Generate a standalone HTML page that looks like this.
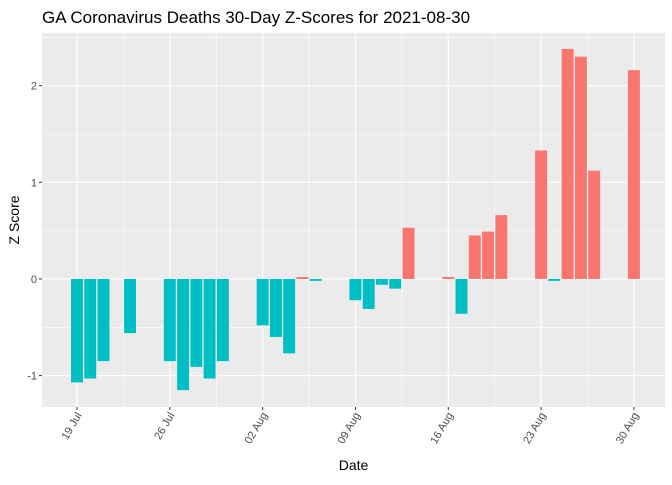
<!DOCTYPE html>
<html><head><meta charset="utf-8"><style>
body{margin:0;background:#fff;font-family:"Liberation Sans",Arial,sans-serif}
</style></head><body>
<svg id="chart" width="672" height="480" xmlns="http://www.w3.org/2000/svg" font-family="Liberation Sans, Arial, sans-serif"></svg>
<script>
const dayOffsets=[0,1,2,4,7,8,9,10,11,14,15,16,17,18,21,22,23,24,25,28,29,30,31,32,35,36,37,38,39,42];
const zScores=[-1.07,-1.03,-0.85,-0.56,-0.85,-1.15,-0.91,-1.03,-0.85,-0.48,-0.60,-0.77,0.02,-0.02,-0.22,-0.31,-0.06,-0.10,0.53,0.02,-0.36,0.45,0.49,0.66,1.33,-0.02,2.38,2.30,1.12,2.16];
const xTickDays=[0,7,14,21,28,35,42];
const xTickLabels=["19 Jul","26 Jul","02 Aug","09 Aug","16 Aug","23 Aug","30 Aug"];
const yTicks=[-1,0,1,2];

const svg=document.getElementById('chart');
const NS='http://www.w3.org/2000/svg';
const L=42,R=665,T=33,B=407;
const x0=77,pxDay=13.26;
const yMin=-1.325,yMax=2.545;
const X=d=>x0+d*pxDay;
const Y=v=>B-(v-yMin)/(yMax-yMin)*(B-T);
function mk(tag,attrs,parent){const e=document.createElementNS(NS,tag);for(const k in attrs)e.setAttribute(k,attrs[k]);(parent||svg).appendChild(e);return e;}

let t=mk('text',{x:42,y:23,'font-size':17,fill:'#000'});


t.textContent='GA Coronavirus Deaths 30-Day Z-Scores for 2021-08-30';

let p=mk('rect',{x:L,y:T,width:R-L,height:B-T,fill:'#EBEBEB'});



// minor grid
for(let i=0;i<yTicks.length+1;i++){const v=yTicks[0]-0.5+i;if(Y(v)>T&&Y(v)<B){mk('line',{x1:L,x2:R,y1:Y(v),y2:Y(v),stroke:'#fff','stroke-width':0.6});}}
for(let i=0;i<=xTickDays.length;i++){const d=xTickDays[0]-3.5+i*7;if(X(d)>L&&X(d)<R){mk('line',{x1:X(d),x2:X(d),y1:T,y2:B,stroke:'#fff','stroke-width':0.6});}}
// major grid + y ticks
yTicks.forEach(v=>{
  mk('line',{x1:L,x2:R,y1:Y(v),y2:Y(v),stroke:'#fff','stroke-width':1.2});
  mk('line',{x1:L-3,x2:L,y1:Y(v),y2:Y(v),stroke:'#333','stroke-width':1});
  const lt=mk('text',{x:L-5,y:Y(v)+4,'font-size':11,fill:'#4D4D4D','text-anchor':'end'});
  
  
  lt.textContent=v;
});
xTickDays.forEach((d,i)=>{
  mk('line',{x1:X(d),x2:X(d),y1:T,y2:B,stroke:'#fff','stroke-width':1.2});
  mk('line',{x1:X(d),x2:X(d),y1:B,y2:B+3,stroke:'#333','stroke-width':1});
  const lt=mk('text',{x:0,y:0,'font-size':11,fill:'#4D4D4D','text-anchor':'end',transform:`translate(${X(d)+5},${B+8}) rotate(-60)`});
  
  
  lt.textContent=xTickLabels[i];
});
// bars
const bw=pxDay*0.9;
dayOffsets.forEach((d,i)=>{
  const v=zScores[i];
  const y1=Y(Math.max(0,v)),y2=Y(Math.min(0,v));
  const r=mk('rect',{x:X(d)-bw/2,y:y1,width:bw,height:Math.max(0.5,y2-y1),fill:v>=0?'#F8766D':'#00BFC4'});
  
  
});
let xt=mk('text',{x:(L+R)/2,y:470,'font-size':14,fill:'#000','text-anchor':'middle'});


xt.textContent='Date';
let yt=mk('text',{x:0,y:0,'font-size':14,fill:'#000','text-anchor':'middle',transform:`translate(19,${(T+B)/2}) rotate(-90)`});


yt.textContent='Z Score';
</script>
</body></html>
